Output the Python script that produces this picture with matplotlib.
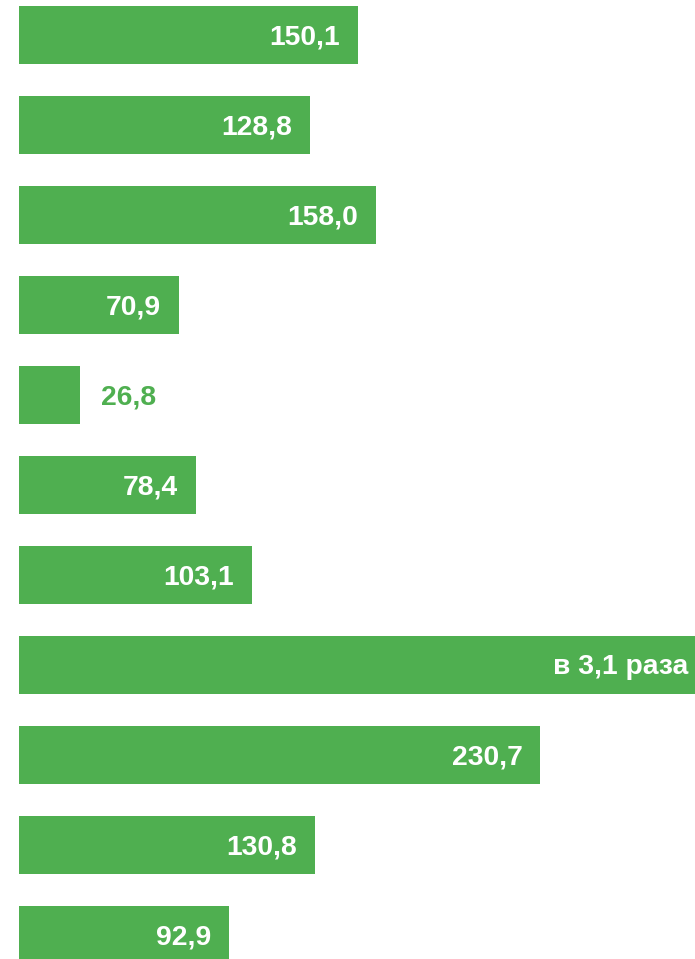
import numpy as np
import matplotlib.pyplot as plt

plt.rcParams['font.family'] = ['Liberation Sans', 'DejaVu Sans']

# values (8th bar is "в 3,1 раза", clipped at the right edge)
values = [150.1, 128.8, 158.0, 70.9, 26.8, 78.4, 103.1, 310.0, 230.7, 130.8, 92.9]
labels = ['150,1', '128,8', '158,0', '70,9', '26,8', '78,4', '103,1',
          'в 3,1 раза', '230,7', '130,8', '92,9']

green = '#4faf50'

W, H = 695, 959
fig = plt.figure(figsize=(W / 100, H / 100), dpi=100)
ax = fig.add_axes([19 / W, 0, 1 - 19 / W, 1])

px_per_unit = 2.26
xmax = (W - 19) / px_per_unit
pitch = 90.0  # px between bars
y = np.arange(len(values))
ax.barh(y, values, height=58 / pitch, color=green, edgecolor='none')
ax.set_xlim(0, xmax)
ax.set_ylim((H - 35) / pitch, -35 / pitch)
ax.axis('off')

dy = -2.5 * 0.72  # nudge labels down a little
for yi, v, lab in zip(y, values, labels):
    if v < 40:
        ax.annotate(lab, (v, yi), xytext=(21 * 0.72, dy), textcoords='offset points',
                    ha='left', va='center', color=green, fontsize=20.3, fontweight='bold')
    elif v > xmax:
        ax.annotate(lab, (xmax, yi), xytext=(-7 * 0.72, dy), textcoords='offset points',
                    ha='right', va='center', color='white', fontsize=20.3, fontweight='bold')
    else:
        ax.annotate(lab, (v, yi), xytext=(-18 * 0.72, dy), textcoords='offset points',
                    ha='right', va='center', color='white', fontsize=20.3, fontweight='bold')

fig.savefig('out.png', dpi=100)
